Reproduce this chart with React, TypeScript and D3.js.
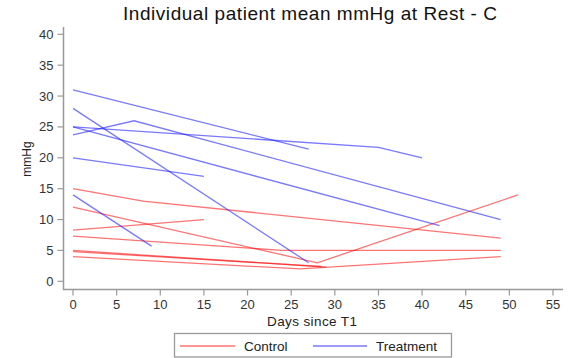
import React, { useEffect, useRef } from "react";
import * as d3 from "d3";

// each patient: list of [day, mean mmHg]
const controlPatients: [number, number][][] = [
  [[0, 15], [8, 13], [49, 7]],
  [[0, 12], [28, 3], [51, 14]],
  [[0, 8.3], [15, 10]],
  [[0, 7.3], [24, 5], [49, 5]],
  [[0, 5], [29, 2.3]],
  [[0, 4.8], [28.5, 2.4]],
  [[0, 4], [26, 2], [49, 4]],
];
const treatmentPatients: [number, number][][] = [
  [[0, 31], [27, 21.4]],
  [[0, 23.7], [7, 26], [49, 10]],
  [[0, 25], [35, 21.7], [40, 20]],
  [[0, 25], [42, 9]],
  [[0, 28], [27, 3]],
  [[0, 20], [15, 17]],
  [[0, 14], [9, 5.7]],
];
const xTicks = [0, 5, 10, 15, 20, 25, 30, 35, 40, 45, 50, 55];
const yTicks = [0, 5, 10, 15, 20, 25, 30, 35, 40];

const W = 576;
const H = 358;

export default function App() {
  const gRef = useRef<SVGGElement>(null);

  useEffect(() => {
    document.body.style.margin = "0";
    const g = d3.select(gRef.current);
    g.selectAll("*").remove();

    const x = d3.scaleLinear().domain([0, 55]).range([73, 553]);
    const y = d3.scaleLinear().domain([0, 40]).range([281.3, 34.3]);
    const line = d3
      .line<[number, number]>()
      .x((d) => x(d[0]))
      .y((d) => y(d[1]));

    // axes
    const xAxis = g.append("g").attr("transform", "translate(0,289.5)");
    xAxis.append("line").attr("x1", 63).attr("x2", 563).attr("stroke", "#999").attr("stroke-width", 1.5);
    xAxis
      .selectAll(".xt")
      .data(xTicks)
      .join("line")
      .attr("x1", (d) => x(d))
      .attr("x2", (d) => x(d))
      .attr("y1", 0)
      .attr("y2", 6)
      .attr("stroke", "#999")
      .attr("stroke-width", 1.2);
    xAxis
      .selectAll(".xl")
      .data(xTicks)
      .join("text")
      .attr("x", (d) => x(d))
      .attr("y", 19.5)
      .attr("text-anchor", "middle")
      .attr("font-size", 13)
      .attr("fill", "#333")
      .text((d) => d);

    const yAxis = g.append("g").attr("transform", "translate(63.5,0)");
    yAxis.append("line").attr("y1", 27).attr("y2", 290).attr("stroke", "#999").attr("stroke-width", 1.5);
    yAxis
      .selectAll(".yt")
      .data(yTicks)
      .join("line")
      .attr("x1", 0)
      .attr("x2", -6)
      .attr("y1", (d) => y(d))
      .attr("y2", (d) => y(d))
      .attr("stroke", "#999")
      .attr("stroke-width", 1.2);
    yAxis
      .selectAll(".yl")
      .data(yTicks)
      .join("text")
      .attr("x", -10)
      .attr("y", (d) => y(d) + 4.5)
      .attr("text-anchor", "end")
      .attr("font-size", 13)
      .attr("fill", "#333")
      .text((d) => d);

    // patient lines
    g.selectAll(".ctrl")
      .data(controlPatients)
      .join("path")
      .attr("d", (d) => line(d))
      .attr("fill", "none")
      .attr("stroke", "#ff0000")
      .attr("stroke-opacity", 0.55)
      .attr("stroke-width", 1.3);
    g.selectAll(".trt")
      .data(treatmentPatients)
      .join("path")
      .attr("d", (d) => line(d))
      .attr("fill", "none")
      .attr("stroke", "#2020ff")
      .attr("stroke-opacity", 0.6)
      .attr("stroke-width", 1.3);
  }, []);

  return (
    <svg width={W} height={H} style={{ display: "block", fontFamily: "'Liberation Sans', Arial, sans-serif" }}>
      <rect width={W} height={H} fill="#fff" />
      <text x={310} y={20} textAnchor="middle" fontSize={19} fill="#111" textLength={374} lengthAdjust="spacing">
        Individual patient mean mmHg at Rest - C
      </text>
      <g ref={gRef} />
      <text transform="translate(31,159) rotate(-90)" textAnchor="middle" fontSize={12} fill="#222">
        mmHg
      </text>
      <text x={312} y={326} textAnchor="middle" fontSize={13.5} fill="#222" textLength={90} lengthAdjust="spacing">
        Days since T1
      </text>
      <g>
        <rect x={174.5} y={333.5} width={277} height={23.5} fill="#fff" stroke="#999" strokeWidth={1.3} />
        <line x1={180} x2={235} y1={346} y2={346} stroke="#ff0000" strokeOpacity={0.55} strokeWidth={1.3} />
        <text x={244} y={351} fontSize={13.5} fill="#222">Control</text>
        <line x1={313} x2={367} y1={346} y2={346} stroke="#2020ff" strokeOpacity={0.6} strokeWidth={1.3} />
        <text x={376} y={351} fontSize={13.5} fill="#222">Treatment</text>
      </g>
    </svg>
  );
}
